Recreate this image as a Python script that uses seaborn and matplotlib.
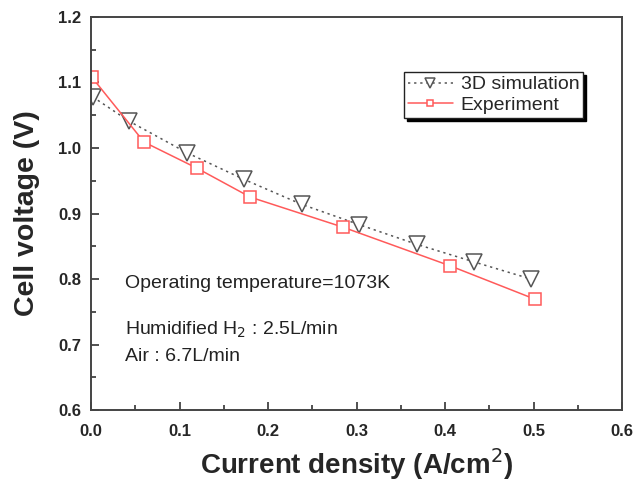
import numpy as np
import pandas as pd
import matplotlib
matplotlib.use("Agg")
import matplotlib.pyplot as plt
import seaborn as sns

# Data
sim_x = [0.002, 0.043, 0.108, 0.173, 0.238, 0.303, 0.368, 0.433, 0.497]
sim_y = [1.078, 1.041, 0.993, 0.952, 0.914, 0.883, 0.853, 0.826, 0.800]
exp_x = [0.001, 0.060, 0.120, 0.180, 0.285, 0.406, 0.502]
exp_y = [1.108, 1.009, 0.969, 0.925, 0.879, 0.820, 0.769]

x_ticks = [0.0, 0.1, 0.2, 0.3, 0.4, 0.5, 0.6]
y_ticks = [0.6, 0.7, 0.8, 0.9, 1.0, 1.1, 1.2]

sns.set_style("ticks")
plt.rcParams['font.family'] = ['Liberation Sans', 'DejaVu Sans']

fig = plt.figure(figsize=(6.37, 4.84), dpi=100)
ax = fig.add_axes([91/637, 1-410/484, 531/637, 393/484])

sim_df = pd.DataFrame({"x": sim_x, "y": sim_y})
exp_df = pd.DataFrame({"x": exp_x, "y": exp_y})

sns.lineplot(data=sim_df, x="x", y="y", ax=ax, color="#555555", linestyle=(0, (1.5, 2.5)),
             linewidth=1.1, marker="v", markersize=12, markerfacecolor="white",
             markeredgecolor="#555555", markeredgewidth=1.1, label="3D simulation", sort=False)
sns.lineplot(data=exp_df, x="x", y="y", ax=ax, color="#ff5a5a", linestyle="-",
             linewidth=1.1, marker="s", markersize=9, markerfacecolor="white",
             markeredgecolor="#ff5a5a", markeredgewidth=1.1, label="Experiment", sort=False)

ax.set_xlim(0, 0.6)
ax.set_ylim(0.6, 1.2)
ax.set_xticks(x_ticks)
ax.set_yticks(y_ticks)
ax.set_xticklabels([f"{v:.1f}" for v in x_ticks], fontweight="bold", fontsize=12)
ax.set_yticklabels([f"{v:.1f}" for v in y_ticks], fontweight="bold", fontsize=12)
ax.set_xticks(np.arange(0.05, 0.6, 0.1), minor=True)
ax.set_yticks(np.arange(0.65, 1.2, 0.1), minor=True)
ax.tick_params(axis="both", which="major", direction="in", length=6, width=1.2, color="#333333")
ax.tick_params(axis="x", which="major", pad=10)
ax.tick_params(axis="y", which="major", pad=7)
ax.tick_params(axis="both", which="minor", direction="in", length=3.5, width=1.2, color="#333333")
ax.tick_params(top=False, right=False, which="both")
for s in ax.spines.values():
    s.set_visible(True)
    s.set_color("#444444")
    s.set_linewidth(1.4)

ax.set_xlabel("Current density (A/cm$^2$)", fontsize=20, fontweight="bold", labelpad=5)
ax.set_ylabel("Cell voltage (V)", fontsize=20.5, fontweight="bold", labelpad=13)

ax.text(0.064, 0.323, "Operating temperature=1073K", transform=ax.transAxes,
        fontsize=14, color="#222222", va="center")
ax.text(0.064, 0.204, "Humidified H$_2$ : 2.5L/min", transform=ax.transAxes,
        fontsize=14, color="#222222", va="center")
ax.text(0.064, 0.135, "Air : 6.7L/min", transform=ax.transAxes,
        fontsize=14, color="#222222", va="center")

leg = ax.legend(loc="upper right", bbox_to_anchor=(0.945, 0.885), fontsize=14,
                frameon=True, fancybox=False, shadow={"color": "black", "alpha": 1.0},
                edgecolor="#222222", framealpha=1, borderpad=0.2, handlelength=2.3,
                labelspacing=0.15, handletextpad=0.4, markerscale=0.55)
leg.get_frame().set_linewidth(1.0)

fig.savefig("out.png", dpi=100)
